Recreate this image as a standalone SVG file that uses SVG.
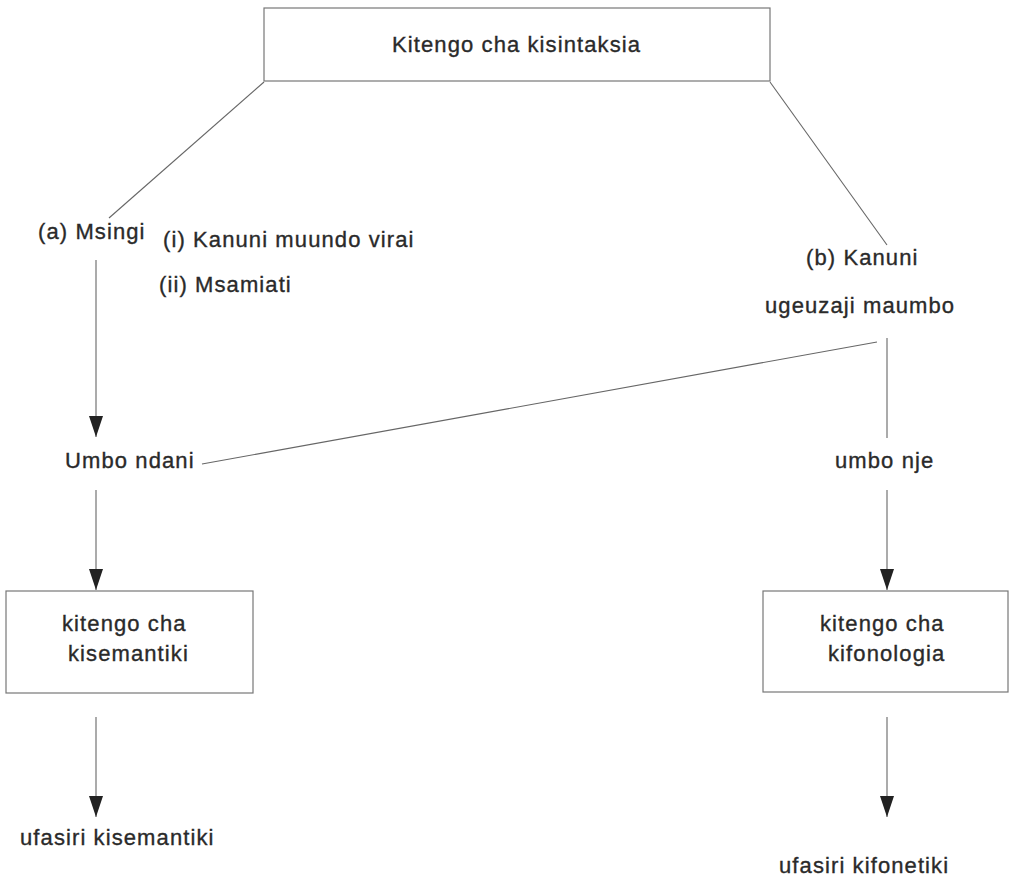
<svg xmlns="http://www.w3.org/2000/svg" width="1018" height="879" viewBox="0 0 1018 879">
  <style>
    .lbl { font-family: "Liberation Sans", Arial, sans-serif; font-size: 22px; letter-spacing: 1.1px; fill: #2a2a2a; stroke: #2a2a2a; stroke-width: 0.35; }
    .box { fill: #fff; stroke: #777; stroke-width: 1.2; }
    .ln { stroke: #666; stroke-width: 1.1; fill: none; }
  </style>
  <defs>
    <!-- solid downward arrowhead, tip at the line end -->
    <marker id="down" viewBox="0 0 14 21" refX="7" refY="21" markerWidth="14" markerHeight="21" markerUnits="userSpaceOnUse" orient="0">
      <path d="M0,0 L14,0 L7,21 Z" fill="#222"/>
    </marker>
  </defs>

  <!-- connectors -->
  <g id="connectors">
    <line class="ln" x1="264" y1="82" x2="109" y2="218"/>
    <line class="ln" x1="770" y1="82" x2="887" y2="245"/>
    <line class="ln" x1="202" y1="464" x2="877" y2="342"/>
    <line class="ln" x1="96" y1="260" x2="96" y2="437" marker-end="url(#down)"/>
    <line class="ln" x1="96" y1="490" x2="96" y2="590" marker-end="url(#down)"/>
    <line class="ln" x1="96" y1="717" x2="96" y2="817" marker-end="url(#down)"/>
    <line class="ln" x1="887" y1="338" x2="887" y2="438"/>
    <line class="ln" x1="887" y1="490" x2="887" y2="590" marker-end="url(#down)"/>
    <line class="ln" x1="887" y1="717" x2="887" y2="817" marker-end="url(#down)"/>
  </g>

  <g id="node-sintaksia">
    <rect class="box" x="264" y="8" width="506" height="73"/>
    <text class="lbl" x="392" y="52">Kitengo cha kisintaksia</text>
  </g>

  <g id="node-msingi">
    <text class="lbl" x="38" y="239">(a) Msingi</text>
  </g>

  <g id="node-kanuni-msingi">
    <text class="lbl" x="163" y="247">(i) Kanuni muundo virai</text>
    <text class="lbl" x="159" y="292">(ii) Msamiati</text>
  </g>

  <g id="node-kanuni-ugeuzaji">
    <text class="lbl" x="806" y="265">(b) Kanuni</text>
    <text class="lbl" x="765" y="313">ugeuzaji maumbo</text>
  </g>

  <g id="node-umbo-ndani">
    <text class="lbl" x="65" y="468">Umbo ndani</text>
  </g>

  <g id="node-umbo-nje">
    <text class="lbl" x="835" y="468">umbo nje</text>
  </g>

  <g id="node-kisemantiki">
    <rect class="box" x="6" y="591" width="247" height="102"/>
    <text class="lbl" x="62" y="631">kitengo cha</text>
    <text class="lbl" x="68" y="661">kisemantiki</text>
  </g>

  <g id="node-kifonologia">
    <rect class="box" x="763" y="591" width="245" height="101"/>
    <text class="lbl" x="820" y="631">kitengo cha</text>
    <text class="lbl" x="828" y="661">kifonologia</text>
  </g>

  <g id="node-ufasiri-kisemantiki">
    <text class="lbl" x="20" y="845">ufasiri kisemantiki</text>
  </g>

  <g id="node-ufasiri-kifonetiki">
    <text class="lbl" x="779" y="873">ufasiri kifonetiki</text>
  </g>
</svg>
